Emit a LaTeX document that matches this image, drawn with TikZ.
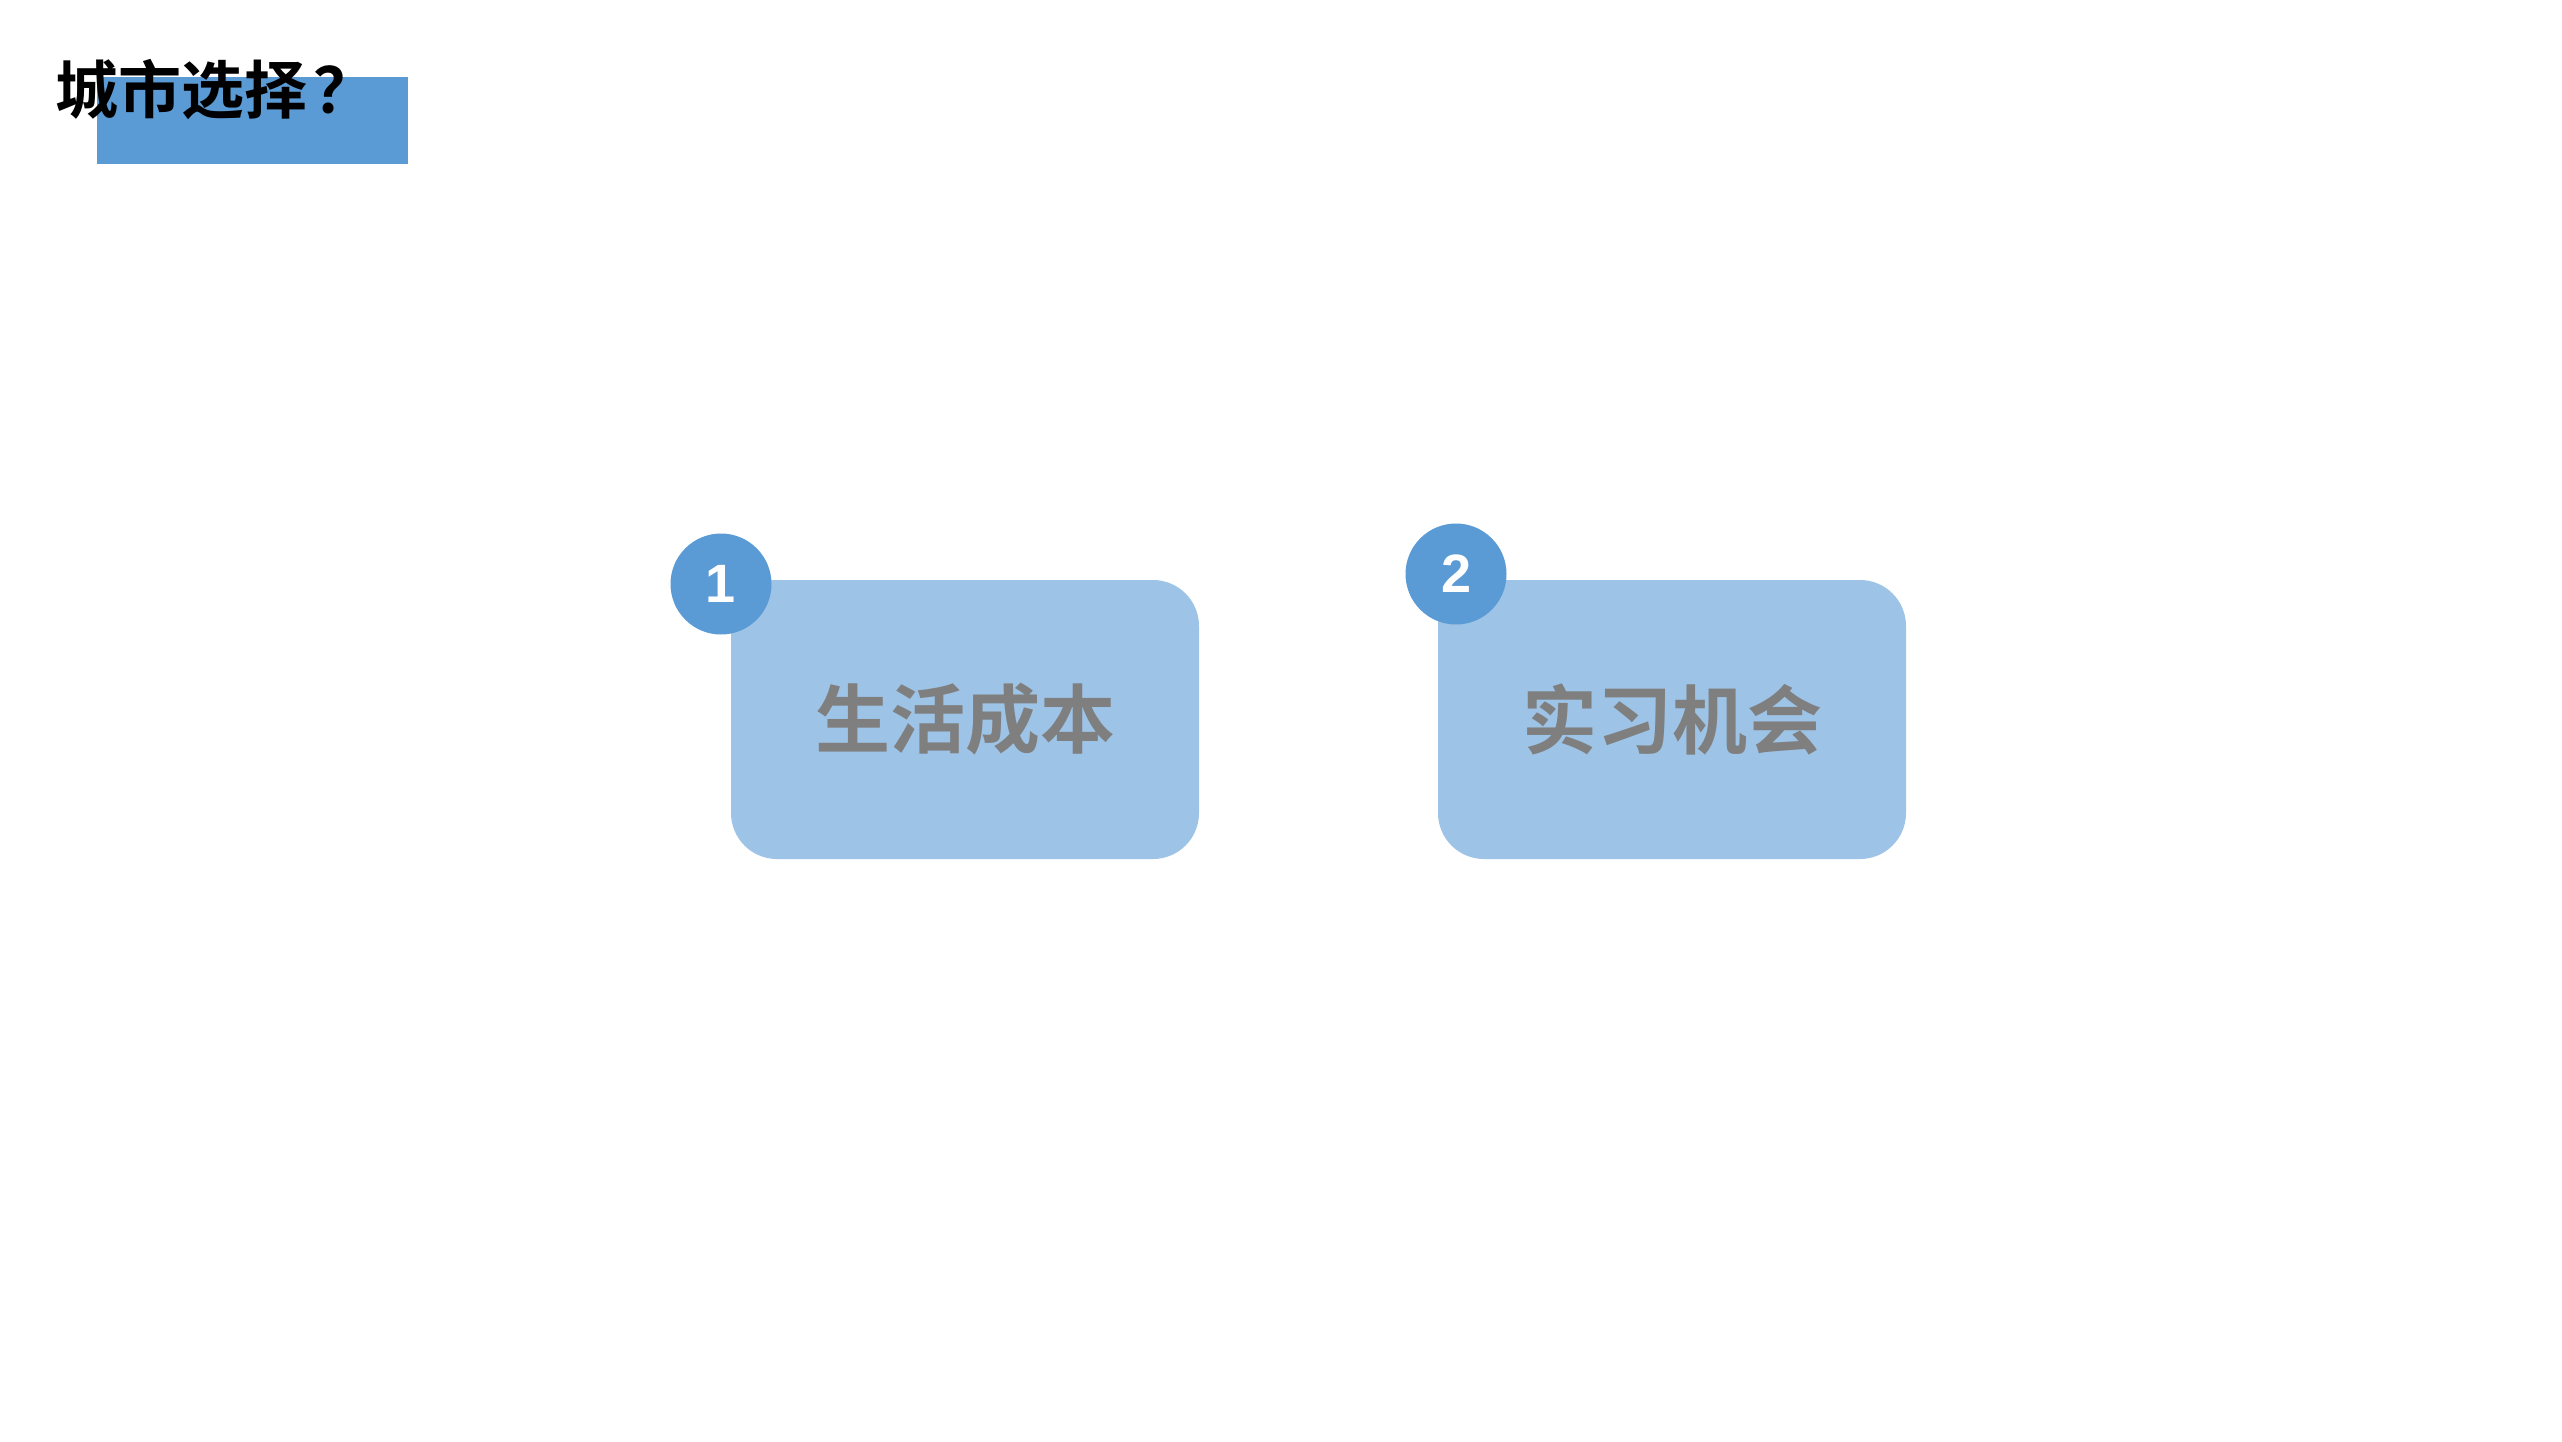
\documentclass[tikz,border=0pt]{standalone}
\usepackage{fontspec}
\setmainfont{Liberation Sans}
\newfontfamily\cjk{Noto Sans CJK SC}[BoldFont={Noto Sans CJK SC Bold}]
\definecolor{darkblue}{HTML}{5B9BD5}
\definecolor{lightblue}{HTML}{9DC3E6}
\definecolor{txtgray}{HTML}{7F7F7F}
\tikzset{
  card/.style={rectangle, rounded corners=46pt, fill=lightblue, draw=none,
    minimum width=468pt, minimum height=279pt, inner sep=0pt,
    font=\cjk\bfseries\fontsize{75pt}{80pt}\selectfont, text=txtgray},
  badge/.style={circle, fill=darkblue, draw=none, minimum size=101pt, inner sep=0pt,
    font=\bfseries\fontsize{54pt}{58pt}\selectfont, text=white},
  titlebar/.style={rectangle, fill=darkblue, draw=none, inner sep=0pt,
    minimum width=311pt, minimum height=87pt},
  titletext/.style={inner sep=0pt, font=\cjk\bfseries\fontsize{63pt}{68pt}\selectfont, text=black}
}
\begin{document}
\begin{tikzpicture}[x=1pt,y=-1pt]
\useasboundingbox (0,0) rectangle (2562,1441);
\node[titlebar] (bar) at (252,120) {};
\node[titletext, anchor=base west] (title) at (55,113) {城市选择\hspace{6pt}？};
\node[card] (c1) at (965,719.5) {生活成本};
\node[card] (c2) at (1672,719.5) {实习机会};
\node[badge] (b1) at (721,584) {1};
\node[badge] (b2) at (1456,574) {2};
\end{tikzpicture}
\end{document}
